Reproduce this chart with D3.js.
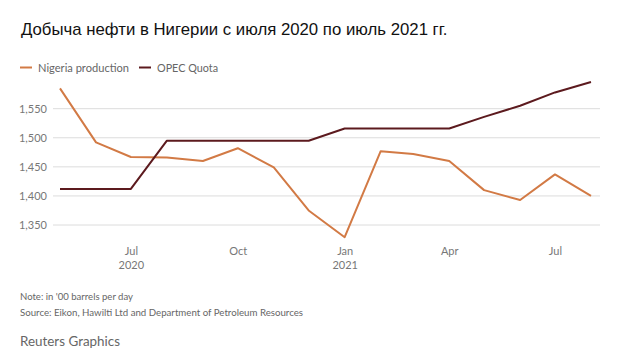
<!DOCTYPE html>
<html><head><meta charset="utf-8">
<script src="https://cdn.jsdelivr.net/npm/d3@7"></script>
<style>
html,body{margin:0;padding:0;background:#fff;}
svg{display:block;}
</style></head>
<body>
<svg id="chart" width="620" height="364"></svg>
<script>
const months = ["2020-05","2020-06","2020-07","2020-08","2020-09","2020-10","2020-11","2020-12",
                "2021-01","2021-02","2021-03","2021-04","2021-05","2021-06","2021-07","2021-08"];
const nigeriaProduction = [1585,1492,1467,1466,1460,1482,1449,1375,1329,1477,1472,1460,1410,1393,1437,1400];
const opecQuota = [1412,1412,1412,1495,1495,1495,1495,1495,1516,1516,1516,1516,1536,1555,1578,1596];
const yTicks = [1350,1400,1450,1500,1550];
const xTicks = [["2020-07","Jul","2020"],["2020-10","Oct",""],["2021-01","Jan","2021"],["2021-04","Apr",""],["2021-07","Jul",""]];
const seriesNames = ["Nigeria production","OPEC Quota"];
const colors = ["#d27a45","#5c1a1e"];

const parse = d3.timeParse("%Y-%m");
const svg = d3.select("#chart");
const x = d3.scaleTime().domain([parse("2020-05"), parse("2021-08")]).range([60, 591]);
const y = d3.scaleLinear().domain([1350, 1550]).range([225, 108.7]);

// title: size chosen so the natural width fits the reference span
const title = svg.append("text").attr("x", 21).attr("y", 35)
  .attr("font-family", "Liberation Sans, Arial, sans-serif").attr("font-size", 20)
  .attr("fill", "#111").text("Добыча нефти в Нигерии с июля 2020 по июль 2021 гг.");
const tw = title.node().getComputedTextLength();
title.attr("font-size", Math.min(20, 20 * 427 / tw));

// legend
const lf = "Lato, 'Open Sans', sans-serif";
const legendX = [20, 139];
const legendW = [91, 61];
seriesNames.forEach((n,i)=>{
  svg.append("line").attr("x1",legendX[i]).attr("x2",legendX[i]+12).attr("y1",67.5).attr("y2",67.5)
    .attr("stroke",colors[i]).attr("stroke-width",2);
  svg.append("text").attr("x",legendX[i]+18).attr("y",72).attr("font-family",lf)
    .attr("font-size",12).attr("fill","#666").text(n)
    .attr("textLength", legendW[i]).attr("lengthAdjust","spacingAndGlyphs");
});

// grid + y labels
const yAxis = d3.axisLeft(y).tickValues(yTicks).tickSize(0).tickFormat(d3.format(","));
const gy = svg.append("g").attr("transform","translate(47,0)").call(yAxis);
gy.select(".domain").remove();
gy.selectAll("text").attr("font-family",lf).attr("font-size",11).attr("fill","#777").attr("x",0).attr("dy","0.32em");
svg.append("g").selectAll("line").data(yTicks).join("line")
  .attr("x1",53).attr("x2",600).attr("y1",d=>y(d)).attr("y2",d=>y(d))
  .attr("stroke","#dcdcdc").attr("stroke-width",1);

// x labels
const xAxis = d3.axisBottom(x).tickValues(xTicks.map(t=>parse(t[0]))).tickSize(0)
  .tickFormat((d,i)=>xTicks[i][1]);
const gx = svg.append("g").attr("transform","translate(0,244)").call(xAxis);
gx.select(".domain").remove();
gx.selectAll("text").attr("font-family",lf).attr("font-size",11).attr("fill","#777").attr("dy","0.71em");
gx.selectAll(".tick").append("text").attr("y",17).attr("dy","0.71em")
  .attr("font-family",lf).attr("font-size",11).attr("fill","#777").attr("text-anchor","middle")
  .text((d,i)=>xTicks[i][2]);

// lines
const line = d3.line().x(d=>x(d[0])).y(d=>y(d[1]));
[nigeriaProduction, opecQuota].forEach((vals,i)=>{
  svg.append("path").datum(months.map((m,j)=>[parse(m), vals[j]]))
    .attr("d", line).attr("fill","none").attr("stroke",colors[i]).attr("stroke-width",2)
    .attr("stroke-linejoin","round");
});

// notes
svg.append("text").attr("x",20).attr("y",300).attr("font-family",lf).attr("font-size",10).attr("fill","#666")
  .text("Note: in '00 barrels per day").attr("textLength",113).attr("lengthAdjust","spacingAndGlyphs");
svg.append("text").attr("x",20).attr("y",316).attr("font-family",lf).attr("font-size",10).attr("fill","#666")
  .text("Source: Eikon, Hawilti Ltd and Department of Petroleum Resources").attr("textLength",283).attr("lengthAdjust","spacingAndGlyphs");
svg.append("text").attr("x",20).attr("y",346).attr("font-family",lf).attr("font-size",14).attr("fill","#666")
  .text("Reuters Graphics").attr("textLength",100).attr("lengthAdjust","spacingAndGlyphs");
</script>
</body></html>
